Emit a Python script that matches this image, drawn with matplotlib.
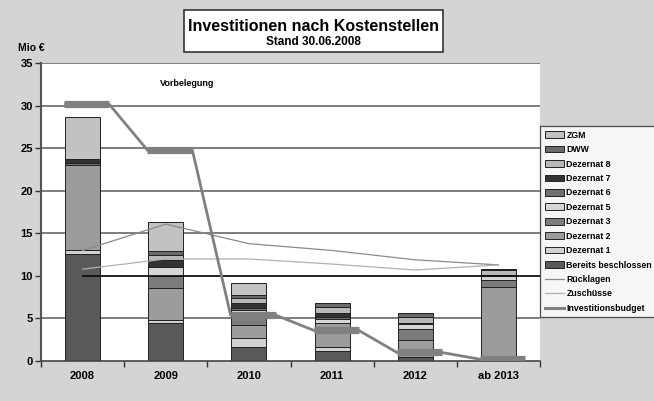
import numpy as np
import matplotlib
matplotlib.use('Agg')
import matplotlib.pyplot as plt
from matplotlib.lines import Line2D

plt.rcParams['font.family'] = ['Liberation Sans', 'DejaVu Sans']
plt.rcParams['font.weight'] = 'bold'

years = ['2008', '2009', '2010', '2011', '2012', 'ab 2013']

# stacked segments, bottom to top
bereits = [12.55, 4.45, 1.65, 1.2, 0.5, 0.0]
dez1 = [0.5, 0.4, 1.0, 0.4, 0.0, 0.0]
dez2 = [10.0, 3.75, 1.6, 2.9, 2.0, 8.75]
dez3 = [0.0, 1.4, 1.3, 0.0, 1.3, 0.8]
dez5 = [0.0, 1.0, 0.4, 0.4, 0.5, 0.4]
dez6 = [0.2, 0.1, 0.3, 0.3, 0.1, 0.1]
dez7 = [0.5, 0.8, 0.6, 0.4, 0.1, 0.1]
dez8 = [0.0, 0.6, 0.6, 0.7, 0.7, 0.5]
dww = [0.0, 0.4, 0.35, 0.5, 0.4, 0.2]
zgm = [5.0, 3.4, 1.4, 0.0, 0.0, 0.0]

ruecklagen = [13.0, 16.1, 13.8, 13.0, 11.9, 11.3]
zuschuesse = [10.8, 12.0, 12.0, 11.4, 10.7, 11.3]
budget = [30.2, 24.8, 5.4, 3.6, 1.0, 0.2]
vorbelegung = 10.0

segments = [
    ('Bereits beschlossen', bereits, '#595959'),
    ('Dezernat 1', dez1, '#d2d2d2'),
    ('Dezernat 2', dez2, '#9c9c9c'),
    ('Dezernat 3', dez3, '#7c7c7c'),
    ('Dezernat 5', dez5, '#d6d6d6'),
    ('Dezernat 6', dez6, '#707070'),
    ('Dezernat 7', dez7, '#333333'),
    ('Dezernat 8', dez8, '#b8b8b8'),
    ('DWW', dww, '#6a6a6a'),
    ('ZGM', zgm, '#c2c2c2'),
]

fig = plt.figure(figsize=(6.54, 4.01), dpi=100)
fig.patch.set_facecolor('#d4d4d4')
ax = fig.add_axes([0.0627, 0.0998, 0.763, 0.742])
ax.set_facecolor('white')

x = np.arange(len(years))
ax.set_xlim(-0.5, len(years) - 0.5)
ax.set_ylim(0, 35)

for v in range(5, 36, 5):
    if v != 10:
        ax.axhline(v, color='#5a5a5a', lw=1.1, zorder=1)

handles = []
bottom = np.zeros(len(years))
for name, vals, col in segments:
    b = ax.bar(x, vals, 0.42, bottom=bottom, color=col, edgecolor='#222222',
               linewidth=0.7, zorder=2, label=name)
    handles.append(b)
    bottom += np.array(vals)

# line at 10 from 2008 to right edge
ax.plot([x[0], len(years) - 0.5], [vorbelegung, vorbelegung], color='#111111', lw=1.3, zorder=3)

l_r, = ax.plot(x, ruecklagen, color='#8a8a8a', lw=0.9, zorder=3)
l_z, = ax.plot(x, zuschuesse, color='#b0b0b0', lw=0.9, zorder=3)

# budget: wide dash per year, joined at the dash ends
half = 0.27
off = 0.05
bx, by = [], []
for xi, v in zip(x, budget):
    bx += [xi + off - half, xi + off + half]
    by += [v, v]
ax.plot(bx, by, color='#808080', lw=2.0, zorder=4, solid_capstyle='butt')
ax.hlines(budget, x + off - half, x + off + half, color='#808080', lw=5.2, zorder=4)
l_b = Line2D([], [], color='#808080', lw=2.2)

ax.text(0.93, 32.3, 'Vorbelegung', fontsize=6.5, fontweight='bold')

ax.set_yticks(range(0, 36, 5))
ax.tick_params(axis='y', labelsize=8, length=4, width=1, color='#333333', pad=2)
ax.set_xticks(x)
ax.set_xticklabels(years)
ax.tick_params(axis='x', which='major', length=0, labelsize=8, pad=7)
ax.set_xticks(np.arange(-0.5, len(years), 1), minor=True)
ax.tick_params(axis='x', which='minor', length=4, width=1, color='#333333')

for s in ['top', 'right']:
    ax.spines[s].set_visible(False)
ax.spines['left'].set_color('#555555')
ax.spines['left'].set_linewidth(1.5)
ax.spines['bottom'].set_color('#444444')
ax.spines['bottom'].set_linewidth(1.2)

fig.text(0.028, 0.872, 'Mio €', fontsize=7.5, fontweight='bold')

# title box
fig.patches.append(plt.Rectangle((0.281, 0.871), 0.396, 0.104, transform=fig.transFigure,
                                 facecolor='white', edgecolor='#333333', lw=1.2))
fig.text(0.479, 0.935, 'Investitionen nach Kostenstellen', ha='center', va='center',
         fontsize=11.5, fontweight='bold')
fig.text(0.479, 0.896, 'Stand 30.06.2008', ha='center', va='center', fontsize=8.5, fontweight='bold')

leg_handles = handles[::-1] + [l_r, l_z, l_b]
leg_labels = [s[0] for s in segments[::-1]] + ['Rücklagen', 'Zuschüsse', 'Investitionsbudget']
leg = fig.legend(leg_handles, leg_labels, loc='upper left', bbox_to_anchor=(0.826, 0.685),
                 fontsize=6.3, frameon=True, fancybox=False, edgecolor='#222222',
                 handlelength=2.2, handleheight=0.8, labelspacing=0.62, handletextpad=0.3,
                 borderpad=0.5, borderaxespad=0)
leg.get_frame().set_linewidth(0.9)

fig.savefig('out.png', dpi=100, facecolor=fig.get_facecolor())
